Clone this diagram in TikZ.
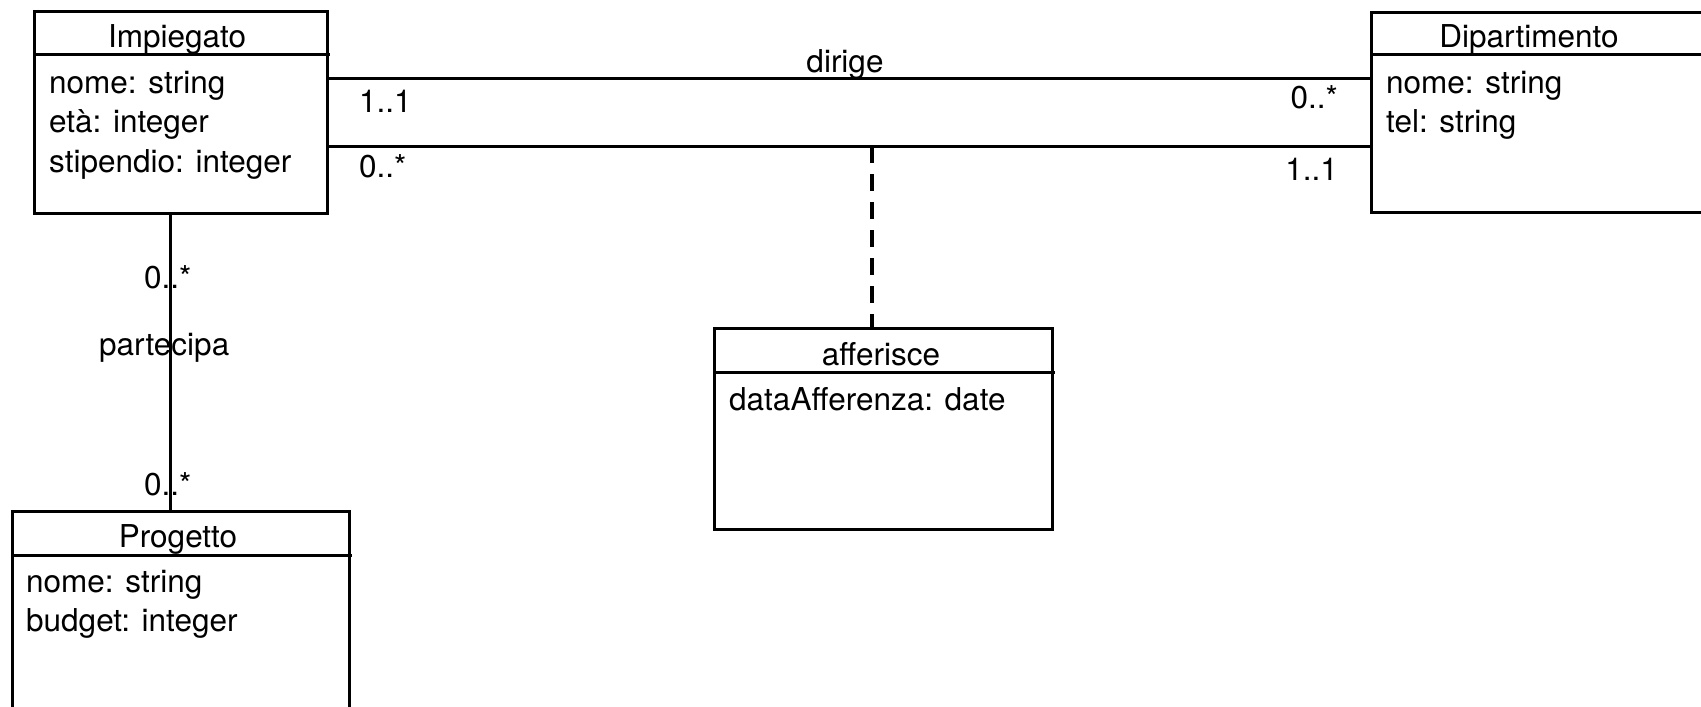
\documentclass[tikz,border=0pt]{standalone}
\usepackage{fontspec}
\setmainfont{TeX Gyre Heros}
\usetikzlibrary{calc}
\newcommand\fsz{\fontsize{31.5}{39}\selectfont}
\begin{document}
\begin{tikzpicture}[x=1pt,y=-1pt,
  box/.style={draw,line width=3pt,inner sep=0pt,anchor=north west},
  lbl/.style={inner sep=0pt,font=\fsz},
  conn/.style={line width=3pt},
  dashconn/.style={line width=3.3pt,dash pattern=on 17pt off 11pt}]
\useasboundingbox (0,0) rectangle (1701,707);
\clip (0,0) rectangle (1701,707);
\fill[white] (0,0) rectangle (1701,707);

% helper coordinates
\coordinate (y78) at (0,78);
\coordinate (y146) at (0,146);
\coordinate (px) at (170,0);
\coordinate (mid) at (872,146);

% classes
\node[box,minimum width=293pt,minimum height=202pt] (imp) at (33,10) {};
\node[box,minimum width=340pt,minimum height=200pt] (dip) at (1370,11) {};
\node[box,minimum width=337pt,minimum height=220pt] (prog) at (11,510) {};
\node[box,minimum width=338pt,minimum height=201pt] (aff) at (713,327) {};

% header separators
\draw[conn] ($(imp.north west)+(0,44)$) -- ++(297,0);
\draw[conn] ($(dip.north west)+(0,43)$) -- ++(344,0);
\draw[conn] ($(prog.north west)+(0,45)$) -- ++(341,0);
\draw[conn] ($(aff.north west)+(0,45)$) -- ++(342,0);

% titles
\node[lbl,anchor=base] (impt) at (177,47) {Impiegato};
\node[lbl,anchor=base] (dipt) at (1529,47) {Dipartimento};
\node[lbl,anchor=base] (progt) at (178,547) {Progetto};
\node[lbl,anchor=base] (afft) at (881,365) {afferisce};

% attributes
\node[lbl,anchor=base west] (impa1) at (49,93) {nome: string};
\node[lbl,anchor=base west] (impa2) at (49,132) {età: integer};
\node[lbl,anchor=base west] (impa3) at (49,172) {stipendio: integer};
\node[lbl,anchor=base west] (dipa1) at (1386,93) {nome: string};
\node[lbl,anchor=base west] (dipa2) at (1386,132) {tel: string};
\node[lbl,anchor=base west] (proga1) at (26,592) {nome: string};
\node[lbl,anchor=base west] (proga2) at (26,631) {budget: integer};
\node[lbl,anchor=base west] (affa1) at (729,410) {dataAfferenza: date};

% associations
\draw[conn] (imp.east |- y78) -- (dip.west |- y78);
\draw[conn] (imp.east |- y146) -- (dip.west |- y146);
\draw[conn] (imp.south -| px) -- (prog.north -| px);
\draw[dashconn] (mid) -- (mid |- aff.north);

% association labels
\node[lbl,anchor=base] (dirige) at (845,72) {dirige};
\node[lbl,anchor=base west] (m1) at (359,112) {1..1};
\node[lbl,anchor=base west] (m2) at (359,177) {0..*};
\node[lbl,anchor=base east] (m3) at (1338,108) {0..*};
\node[lbl,anchor=base east] (m4) at (1338,180) {1..1};
\node[lbl,anchor=base west] (part) at (99,355) {partecipa};
\node[lbl,anchor=base west] (m5) at (144,288) {0..*};
\node[lbl,anchor=base west] (m6) at (144,495) {0..*};
\end{tikzpicture}
\end{document}
